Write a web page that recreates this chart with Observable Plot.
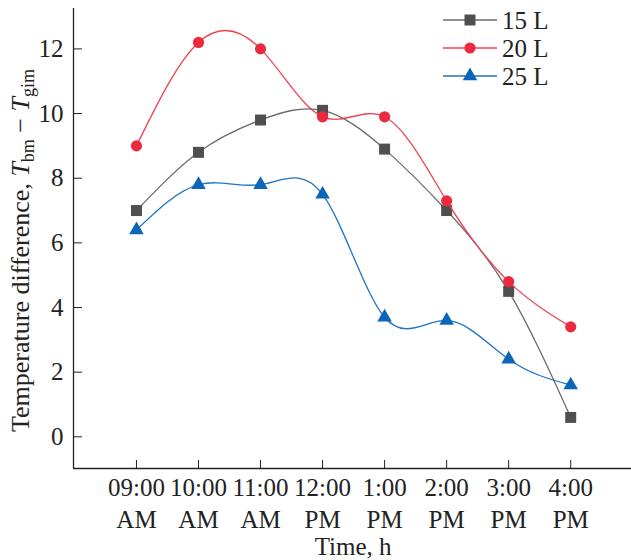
<!DOCTYPE html>
<html><head><meta charset="utf-8">
<script src="https://cdn.jsdelivr.net/npm/d3@7"></script>
<script src="https://cdn.jsdelivr.net/npm/@observablehq/plot@0.6"></script>
<style>
body{margin:0;background:#fff;}
#chart{position:relative;width:631px;height:560px;}
</style></head><body><div id="chart"></div>
<script>
const timeTop = ["09:00","10:00","11:00","12:00","1:00","2:00","3:00","4:00"];
const timeBottom = ["AM","AM","AM","PM","PM","PM","PM","PM"];
const seriesNames = ["15 L","20 L","25 L"];
const v15 = [7.0, 8.8, 9.8, 10.1, 8.9, 7.0, 4.5, 0.6];
const v20 = [9.0, 12.2, 12.0, 9.9, 9.9, 7.3, 4.8, 3.4];
const v25 = [6.4, 7.8, 7.8, 7.5, 3.7, 3.6, 2.4, 1.6];
const yTicks = [0, 2, 4, 6, 8, 10, 12];
const dotColors = ["#4f4f4f", "#ec2a3e", "#0b66b8"];
const lineColors = ["#6b6b6b", "#ee4356", "#1f74c2"];
const symbols = ["square", "circle", "triangle"];
const radii = [6.2, 5.6, 5.4];

const values = [v15, v20, v25];
const xIdx = d3.range(timeTop.length);
const xDomain = [-1.015, 7.98];
const yDomain = [-0.98, 13.25];

const marks = [];
values.forEach((vals, s) => {
  const data = vals.map((v, i) => ({i, v, s: seriesNames[s]}));
  marks.push(Plot.line(data, {x: "i", y: "v", curve: "natural", stroke: lineColors[s], strokeWidth: 1.3}));
  marks.push(Plot.dot(data, {x: "i", y: "v", symbol: () => symbols[s], r: radii[s], fill: dotColors[s], stroke: "none"}));
});

const plot = Plot.plot({
  width: 631, height: 560,
  marginLeft: 73, marginRight: 0, marginTop: 8, marginBottom: 92,
  style: {fontFamily: "'Liberation Serif', 'Times New Roman', serif", fontSize: "25px", color: "#222", background: "#fff"},
  x: {type: "linear", domain: xDomain},
  y: {domain: yDomain},
  symbol: {type: "identity"},
  marks: [
    Plot.ruleX([xDomain[0]], {stroke: "#222", strokeWidth: 1.3}),
    Plot.ruleY([yDomain[0]], {stroke: "#222", strokeWidth: 1.3}),
    Plot.axisY(yTicks, {anchor: "left", tickSize: -9, tickPadding: 19, label: null, tickFormat: d => String(d), fontSize: 25, stroke: "#222"}),
    Plot.axisX(xIdx, {anchor: "bottom", tickSize: -8, tickPadding: 13, label: null, tickFormat: i => timeTop[i] + "\n" + timeBottom[i], lineHeight: 1.28, fontSize: 25}),
    ...marks
  ]
});
document.getElementById("chart").appendChild(plot);

const svg = d3.select(plot);
const xs = plot.scale("x");
const font = "'Liberation Serif', 'Times New Roman', serif";

// y label
const yl = svg.append("text")
  .attr("transform", "translate(29,432) rotate(-90)")
  .attr("text-anchor", "start").attr("font-family", font).attr("font-size", 26).attr("fill", "#222");
yl.append("tspan").text("Temperature difference, ");
yl.append("tspan").attr("font-style", "italic").text("T");
yl.append("tspan").attr("font-size", 18).attr("dy", 5).text("bm");
yl.append("tspan").attr("dy", -5).text(" \u2212 ");
yl.append("tspan").attr("font-style", "italic").text("T");
yl.append("tspan").attr("font-size", 18).attr("dy", 5).text("gim");

// x label
svg.append("text")
  .attr("x", xs.apply((xIdx[0] + xIdx[xIdx.length - 1]) / 2)).attr("y", 555)
  .attr("text-anchor", "middle").attr("font-family", font).attr("font-size", 25).attr("fill", "#222")
  .text("Time, h");

// legend
const lg = svg.append("g").attr("transform", "translate(443,20)");
const symMap = {square: d3.symbolSquare, circle: d3.symbolCircle, triangle: d3.symbolTriangle};
seriesNames.forEach((name, s) => {
  const g = lg.append("g").attr("transform", `translate(0,${s * 28})`);
  g.append("line").attr("x1", 0).attr("x2", 54).attr("y1", 0).attr("y2", 0)
    .attr("stroke", lineColors[s]).attr("stroke-width", 1.3);
  g.append("path").attr("transform", "translate(27,0)")
    .attr("d", d3.symbol(symMap[symbols[s]], Math.PI * radii[s] * radii[s])())
    .attr("fill", dotColors[s]);
  g.append("text").attr("x", 59).attr("y", 8.5).attr("text-anchor", "start")
    .attr("font-family", font).attr("font-size", 25).attr("fill", "#222").text(name);
});
</script>
</body></html>
